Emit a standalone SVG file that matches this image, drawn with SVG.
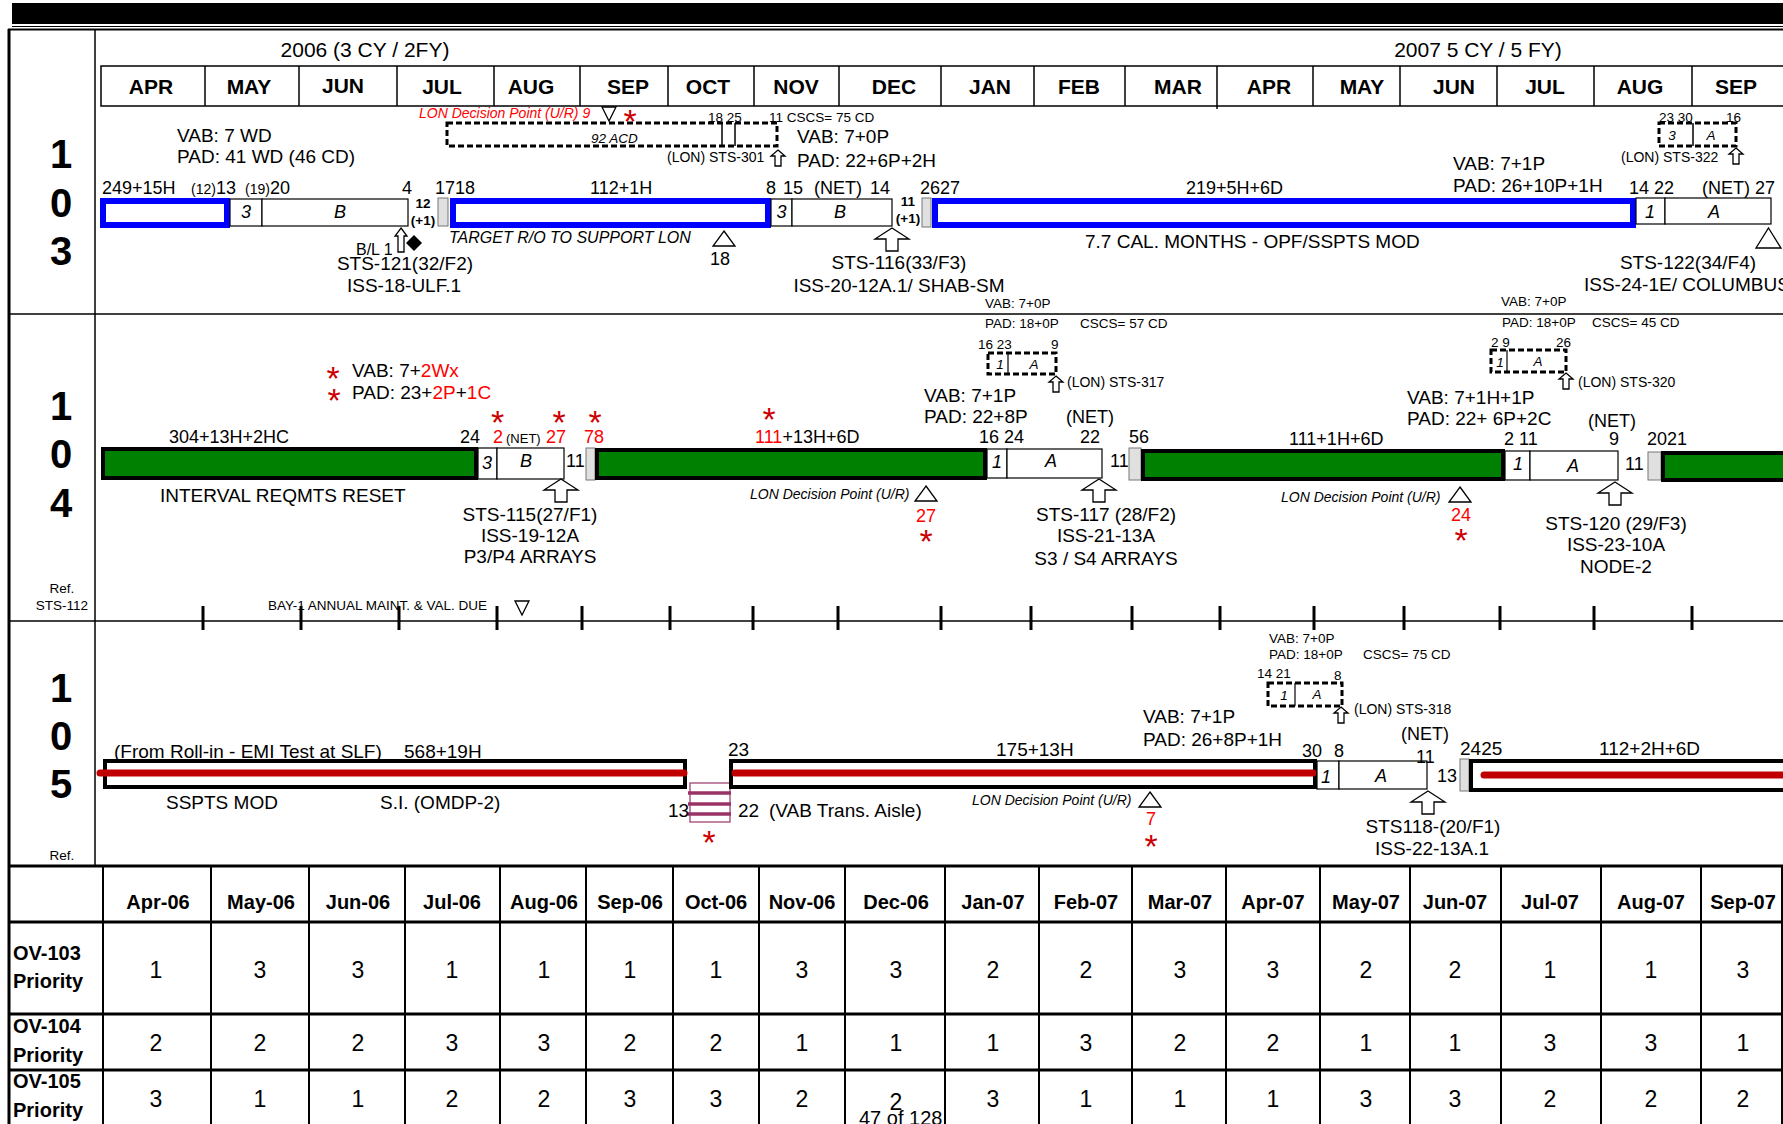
<svg xmlns="http://www.w3.org/2000/svg" xmlns:xlink="http://www.w3.org/1999/xlink" width="1783" height="1124" viewBox="0 0 1783 1124">
<style>
text{font-family:"Liberation Sans",Arial,sans-serif;fill:#000}
.s19{font-size:19px}.s18{font-size:18px}.s16{font-size:16px}.s14{font-size:14px}.s13{font-size:13.5px}
.i{font-style:italic}.b{font-weight:bold}.m{text-anchor:middle}.e{text-anchor:end}
.red{fill:#ff0000}.star{font-size:34px;fill:#cc0000;text-anchor:middle}
.mon{font-size:21px;font-weight:bold;text-anchor:middle}
.big{font-size:40px;font-weight:bold;text-anchor:middle}
.th{font-size:20px;font-weight:bold;text-anchor:middle}
.td{font-size:23px;text-anchor:middle}
.rl{font-size:20px;font-weight:bold}
.ln{stroke:#000;fill:none}
.box{fill:#fff;stroke:#000;stroke-width:1.2}
.grey{fill:#e0e0e0;stroke:#777;stroke-width:1}
.blue{fill:#fff;stroke:#0000ff;stroke-width:6}
.green{fill:#008000;stroke:#000;stroke-width:4}
.wbar{fill:#fff;stroke:#000;stroke-width:4}
.redl{stroke:#c00000;stroke-width:7;stroke-linecap:round}
.dash{fill:none;stroke:#000;stroke-width:3;stroke-dasharray:6 3}
.hollow{fill:#fff;stroke:#000;stroke-width:1.3}
</style>
<defs>
<path id="bigArrow" class="hollow" d="M0,0 L17,11 L6,11 L6,23 L-6,23 L-6,11 L-17,11 Z"/>
<path id="smallArrow" class="hollow" d="M0,0 L7,6 L3,6 L3,16 L-3,16 L-3,6 L-7,6 Z"/>
<path id="triUp" class="hollow" d="M0,0 L11,15 L-11,15 Z"/>
<path id="triDown" class="hollow" d="M-7,0 L7,0 L0,14 Z"/>
</defs>
<rect width="1783" height="1124" fill="#fff"/>

<g id="frame">
<rect x="12" y="3" width="1771" height="21" fill="#000"/>
<line class="ln" x1="12" y1="26.5" x2="1783" y2="26.5" stroke-width="1"/>
<line class="ln" x1="8" y1="29.5" x2="1783" y2="29.5" stroke-width="2"/>
<line class="ln" x1="9" y1="29" x2="9" y2="1124" stroke-width="3"/>
<line class="ln" x1="95" y1="29" x2="95" y2="865" stroke-width="1.5"/>
<line class="ln" x1="9" y1="314" x2="1783" y2="314" stroke-width="1.5"/>
<line class="ln" x1="9" y1="621" x2="1783" y2="621" stroke-width="1.5"/>
</g>

<g id="header">
<text class="s19 m" x="365" y="57" style="font-size:21px">2006 (3 CY / 2FY)</text>
<text class="s19 m" x="1478" y="57" style="font-size:21px">2007 5 CY / 5 FY)</text>
<rect x="101" y="66" width="1690" height="40" fill="none" stroke="#000" stroke-width="1.5"/>
<g class="ln" stroke-width="1.5">
<line x1="205" y1="66" x2="205" y2="106"/><line x1="299" y1="66" x2="299" y2="106"/><line x1="397" y1="66" x2="397" y2="106"/><line x1="494" y1="66" x2="494" y2="106"/><line x1="580" y1="66" x2="580" y2="106"/><line x1="668" y1="66" x2="668" y2="106"/><line x1="754" y1="66" x2="754" y2="106"/><line x1="839" y1="66" x2="839" y2="106"/><line x1="941" y1="66" x2="941" y2="106"/><line x1="1034" y1="66" x2="1034" y2="106"/><line x1="1125" y1="66" x2="1125" y2="106"/><line x1="1217" y1="66" x2="1217" y2="109"/><line x1="1313" y1="66" x2="1313" y2="106"/><line x1="1400" y1="66" x2="1400" y2="106"/><line x1="1497" y1="66" x2="1497" y2="106"/><line x1="1594" y1="66" x2="1594" y2="106"/><line x1="1692" y1="66" x2="1692" y2="106"/>
</g>
<text class="mon" x="151" y="94">APR</text><text class="mon" x="249" y="94">MAY</text><text class="mon" x="343" y="93">JUN</text><text class="mon" x="442" y="94">JUL</text><text class="mon" x="531" y="94">AUG</text><text class="mon" x="628" y="94">SEP</text><text class="mon" x="708" y="94">OCT</text><text class="mon" x="796" y="94">NOV</text><text class="mon" x="894" y="94">DEC</text><text class="mon" x="990" y="94">JAN</text><text class="mon" x="1079" y="94">FEB</text><text class="mon" x="1178" y="94">MAR</text><text class="mon" x="1269" y="94">APR</text><text class="mon" x="1362" y="94">MAY</text><text class="mon" x="1454" y="94">JUN</text><text class="mon" x="1545" y="94">JUL</text><text class="mon" x="1640" y="94">AUG</text><text class="mon" x="1736" y="94">SEP</text>
</g>

<g id="labels">
<text class="big" x="61" y="168">1</text><text class="big" x="61" y="217">0</text><text class="big" x="61" y="265">3</text>
<text class="big" x="61" y="420">1</text><text class="big" x="61" y="468">0</text><text class="big" x="61" y="517">4</text>
<text class="s13 m" x="62" y="593">Ref.</text><text class="s13 m" x="62" y="610">STS-112</text>
<text class="big" x="61" y="702">1</text><text class="big" x="61" y="750">0</text><text class="big" x="61" y="798">5</text>
<text class="s13 m" x="62" y="860">Ref.</text>
</g>

<!-- OV-103 -->
<g id="ov103-flow1">
<rect class="blue" x="103" y="201" width="124" height="24"/>
<rect class="box" x="230" y="199" width="32" height="27"/>
<rect class="box" x="262" y="199" width="146" height="27"/>
<text class="s18 i m" x="246" y="218">3</text><text class="s18 i m" x="340" y="218">B</text>
<text class="s18" x="102" y="194">249+15H</text>
<text class="s14" x="191" y="194">(12)</text><text class="s18" x="216" y="194">13</text>
<text class="s14" x="245" y="194">(19)</text><text class="s18" x="270" y="194">20</text>
<text class="s18" x="402" y="194">4</text>
<text class="s13 b m" x="423" y="208">12</text><text class="s13 b m" x="423" y="225">(+1)</text>
<text class="s19" x="177" y="142">VAB: 7 WD</text>
<text class="s19" x="177" y="163">PAD: 41 WD (46 CD)</text>
</g>
<g id="ov103-sts121">
<path class="hollow" d="M401,228 L407,236 L404,236 L404,252 L398,252 L398,236 L395,236 Z"/>
<path d="M414,235 L422,243 L414,251 L406,243 Z" fill="#000"/>
<text class="s16" x="356" y="255">B/L 1</text>
<text class="s19 m" x="405" y="270">STS-121(32/F2)</text>
<text class="s19 m" x="404" y="292">ISS-18-ULF.1</text>
</g>
<g id="ov103-flow2">
<rect class="grey" x="438" y="198" width="10" height="28"/>
<rect class="blue" x="453" y="201" width="315" height="24"/>
<rect class="box" x="771" y="199" width="21" height="27"/>
<rect class="box" x="792" y="199" width="100" height="27"/>
<text class="s18 i m" x="781.5" y="218">3</text><text class="s18 i m" x="840" y="218">B</text>
<text class="s18" x="435" y="194">1718</text>
<text class="s18" x="590" y="194">112+1H</text>
<text class="s18" x="766" y="194">8</text><text class="s18" x="783" y="194">15</text><text class="s18" x="814" y="194">(NET)</text><text class="s18" x="870" y="194">14</text>
<text class="s13 b m" x="908" y="206">11</text><text class="s13 b m" x="908" y="223">(+1)</text>
<text class="s16 i" x="449" y="243">TARGET R/O TO SUPPORT LON</text>
<use href="#triUp" x="724" y="231"/>
<text class="s18 m" x="720" y="265">18</text>
</g>
<g id="ov103-sts301">
<text class="s14 i red" x="419" y="118">LON Decision Point (U/R) 9</text>
<use href="#triDown" x="609" y="107"/>
<text class="star" x="630" y="133">*</text>
<rect class="dash" x="447" y="123" width="330" height="23"/>
<line class="ln" x1="722" y1="123" x2="722" y2="146" stroke-width="1.5"/>
<line class="ln" x1="735" y1="123" x2="735" y2="146" stroke-width="1.5"/>
<text class="s13 i" x="591" y="143">92 ACD</text>
<text class="s13" x="708" y="122">18 25</text>
<text class="s13" x="769" y="122">11 CSCS= 75 CD</text>
<use href="#smallArrow" x="778" y="150"/>
<text class="s14" x="667" y="162">(LON) STS-301</text>
<text class="s19" x="797" y="143">VAB: 7+0P</text>
<text class="s19" x="797" y="167">PAD: 22+6P+2H</text>
</g>
<g id="ov103-sts116">
<use href="#bigArrow" x="892" y="228"/>
<text class="s19 m" x="899" y="269">STS-116(33/F3)</text>
<text class="s19 m" x="899" y="292">ISS-20-12A.1/ SHAB-SM</text>
</g>
<g id="ov103-flow3">
<rect class="grey" x="922" y="198" width="9" height="29"/>
<rect class="blue" x="935" y="201" width="698" height="24"/>
<rect class="box" x="1636" y="198" width="29" height="26"/>
<rect class="box" x="1665" y="198" width="106" height="26"/>
<text class="s18 i m" x="1650" y="218">1</text><text class="s18 i m" x="1714" y="218">A</text>
<text class="s18" x="920" y="194">2627</text>
<text class="s18" x="1186" y="194">219+5H+6D</text>
<text class="s19" x="1085" y="248">7.7 CAL. MONTHS - OPF/SSPTS MOD</text>
<text class="s19" x="1453" y="170">VAB: 7+1P</text>
<text class="s19" x="1453" y="192">PAD: 26+10P+1H</text>
<text class="s18" x="1629" y="194">14 22</text>
<text class="s18" x="1702" y="194">(NET) 27</text>
</g>
<g id="ov103-sts122">
<path class="hollow" d="M1768.5,228 L1781,248 L1756,248 Z"/>
<text class="s19 m" x="1688" y="269">STS-122(34/F4)</text>
<text class="s19" x="1584" y="291">ISS-24-1E/ COLUMBUS</text>
</g>
<g id="ov103-sts322">
<rect class="dash" x="1659" y="123" width="77" height="23"/>
<line class="ln" x1="1693" y1="123" x2="1693" y2="146" stroke-width="1.5"/>
<text class="s13 i m" x="1672" y="140">3</text><text class="s13 i m" x="1711" y="140">A</text>
<text class="s13" x="1659" y="122">23 30</text><text class="s13" x="1726" y="122">16</text>
<use href="#smallArrow" x="1736" y="148"/>
<text class="s14" x="1621" y="162">(LON) STS-322</text>
</g>

<!-- OV-104 -->
<g id="ov104-flow1">
<text class="star" x="333" y="390">*</text>
<text class="s19" x="352" y="377">VAB: 7+<tspan class="red">2Wx</tspan></text>
<text class="star" x="334" y="412">*</text>
<text class="s19" x="352" y="399">PAD: 23+<tspan class="red">2P</tspan>+<tspan class="red">1C</tspan></text>
<rect class="green" x="103" y="449" width="373" height="29"/>
<rect class="box" x="478" y="448" width="19" height="31"/>
<rect class="box" x="497" y="448" width="67" height="31"/>
<text class="s18 i m" x="487" y="469">3</text><text class="s18 i m" x="526" y="467">B</text>
<text class="s18" x="169" y="443">304+13H+2HC</text>
<text class="s19" x="160" y="502">INTERVAL REQMTS RESET</text>
<text class="s18" x="460" y="443">24</text>
<text class="s18 red" x="493" y="443">2</text>
<text class="s13" x="506" y="443" style="font-size:13px">(NET)</text>
<text class="s18 red" x="546" y="443">27</text>
<text class="star" x="497.5" y="434">*</text><text class="star" x="559" y="434">*</text>
<text class="s18" x="566" y="467">11</text>
</g>
<g id="ov104-sts115">
<use href="#bigArrow" x="561" y="479"/>
<text class="s19 m" x="530" y="521">STS-115(27/F1)</text>
<text class="s19 m" x="530" y="542">ISS-19-12A</text>
<text class="s19 m" x="530" y="563">P3/P4 ARRAYS</text>
</g>
<g id="ov104-flow2">
<rect class="grey" x="586" y="448" width="9" height="32"/>
<rect class="green" x="597" y="450" width="388" height="28"/>
<rect class="box" x="987" y="449" width="20" height="29"/>
<rect class="box" x="1007" y="449" width="95" height="29"/>
<text class="s18 i m" x="997" y="468">1</text><text class="s18 i m" x="1051" y="467">A</text>
<text class="star" x="595" y="434">*</text>
<text class="s18 red" x="584" y="443">78</text>
<text class="star" x="769" y="431">*</text>
<text class="s18" x="755" y="443"><tspan class="red">111</tspan>+13H+6D</text>
<text class="s14 i" x="750" y="499">LON Decision Point (U/R)</text>
<use href="#triUp" x="926" y="486"/>
<text class="s18 red m" x="926" y="522">27</text>
<text class="star" x="926" y="553">*</text>
<text class="s19" x="924" y="402">VAB: 7+1P</text>
<text class="s19" x="924" y="423">PAD: 22+8P</text>
<text class="s18" x="1066" y="423">(NET)</text>
<text class="s18" x="979" y="443">16 24</text>
<text class="s18" x="1080" y="443">22</text>
<text class="s18" x="1110" y="467">11</text>
</g>
<g id="ov104-sts117">
<use href="#bigArrow" x="1099" y="479"/>
<text class="s19 m" x="1106" y="521">STS-117 (28/F2)</text>
<text class="s19 m" x="1106" y="542">ISS-21-13A</text>
<text class="s19 m" x="1106" y="565">S3 / S4 ARRAYS</text>
</g>
<g id="ov104-sts317">
<text class="s13" x="985" y="308">VAB: 7+0P</text>
<text class="s13" x="985" y="328">PAD: 18+0P</text>
<text class="s13" x="1080" y="328">CSCS= 57 CD</text>
<text class="s13" x="978" y="349">16 23</text><text class="s13" x="1051" y="349">9</text>
<rect class="dash" x="988" y="353" width="68" height="21"/>
<line class="ln" x1="1008" y1="353" x2="1008" y2="374" stroke-width="1.2"/>
<text class="s13 i m" x="1000" y="369">1</text><text class="s13 i m" x="1034" y="369">A</text>
<use href="#smallArrow" x="1056" y="376"/>
<text class="s14" x="1067" y="387">(LON) STS-317</text>
</g>
<g id="ov104-flow3">
<rect class="grey" x="1129" y="448" width="12" height="32"/>
<rect class="green" x="1143" y="451" width="360" height="28"/>
<rect class="box" x="1505" y="451" width="25" height="29"/>
<rect class="box" x="1530" y="451" width="88" height="29"/>
<text class="s18 i m" x="1518" y="470">1</text><text class="s18 i m" x="1573" y="472">A</text>
<text class="s18" x="1129" y="443">56</text>
<text class="s18" x="1289" y="445">111+1H+6D</text>
<text class="s14 i" x="1281" y="502">LON Decision Point (U/R)</text>
<use href="#triUp" x="1460" y="487"/>
<text class="s18 red m" x="1461" y="521">24</text>
<text class="star" x="1461" y="552">*</text>
<text class="s19" x="1407" y="404">VAB: 7+1H+1P</text>
<text class="s19" x="1407" y="425">PAD: 22+ 6P+2C</text>
<text class="s18" x="1588" y="427">(NET)</text>
<text class="s18" x="1504" y="445">2 11</text>
<text class="s18" x="1609" y="445">9</text>
<text class="s18" x="1625" y="470">11</text>
</g>
<g id="ov104-sts120">
<use href="#bigArrow" x="1615" y="482"/>
<text class="s19 m" x="1616" y="530">STS-120 (29/F3)</text>
<text class="s19 m" x="1616" y="551">ISS-23-10A</text>
<text class="s19 m" x="1616" y="573">NODE-2</text>
</g>
<g id="ov104-sts320">
<text class="s13" x="1501" y="306">VAB: 7+0P</text>
<text class="s13" x="1502" y="327">PAD: 18+0P</text>
<text class="s13" x="1592" y="327">CSCS= 45 CD</text>
<text class="s13" x="1491" y="347">2 9</text><text class="s13" x="1556" y="347">26</text>
<rect class="dash" x="1491" y="350" width="75" height="22"/>
<line class="ln" x1="1507" y1="350" x2="1507" y2="372" stroke-width="1.2"/>
<text class="s13 i m" x="1500" y="367">1</text><text class="s13 i m" x="1538" y="366">A</text>
<use href="#smallArrow" x="1566" y="373"/>
<text class="s14" x="1578" y="387">(LON) STS-320</text>
</g>
<g id="ov104-flow4">
<rect class="grey" x="1648" y="452" width="13" height="28"/>
<rect class="green" x="1663" y="453" width="130" height="27"/>
<text class="s18" x="1647" y="445">2021</text>
</g>

<g id="connectors">
<g class="ln" stroke-width="3">
<line x1="203" y1="606" x2="203" y2="630"/><line x1="301" y1="606" x2="301" y2="630"/><line x1="399" y1="606" x2="399" y2="630"/><line x1="497" y1="606" x2="497" y2="630"/><line x1="582" y1="606" x2="582" y2="630"/><line x1="670" y1="606" x2="670" y2="630"/><line x1="753" y1="606" x2="753" y2="630"/><line x1="838" y1="606" x2="838" y2="630"/><line x1="941" y1="606" x2="941" y2="630"/><line x1="1031" y1="606" x2="1031" y2="630"/><line x1="1132" y1="606" x2="1132" y2="630"/><line x1="1220" y1="606" x2="1220" y2="630"/><line x1="1314" y1="606" x2="1314" y2="630"/><line x1="1404" y1="606" x2="1404" y2="630"/><line x1="1500" y1="606" x2="1500" y2="630"/><line x1="1594" y1="606" x2="1594" y2="630"/><line x1="1692" y1="606" x2="1692" y2="630"/>
</g>
</g>
<g id="bay1">
<text class="s13" x="268" y="610">BAY-1 ANNUAL MAINT. &amp; VAL. DUE</text>
<use href="#triDown" x="522" y="601"/>
</g>

<!-- OV-105 -->
<g id="ov105-flow1">
<rect class="wbar" x="105" y="761" width="580" height="26"/>
<line class="redl" x1="100" y1="773" x2="684" y2="773"/>
<text class="s19" x="114" y="758">(From Roll-in - EMI Test at SLF)</text>
<text class="s19" x="404" y="758">568+19H</text>
<text class="s19" x="166" y="809">SSPTS MOD</text>
<text class="s19" x="380" y="809">S.I. (OMDP-2)</text>
</g>
<g id="ov105-aisle">
<rect x="690" y="783" width="40" height="39" fill="none" stroke="#993366" stroke-width="1.2"/>
<g stroke="#993366" stroke-width="3.5"><line x1="688" y1="793" x2="731" y2="793"/><line x1="688" y1="804" x2="731" y2="804"/><line x1="688" y1="814" x2="731" y2="814"/></g>
<text class="s19" x="668" y="817">13</text>
<text class="s19" x="738" y="817">22</text>
<text class="s19" x="769" y="817">(VAB Trans. Aisle)</text>
<text class="star" x="709" y="854">*</text>
</g>
<g id="ov105-flow2">
<rect class="wbar" x="731" y="761" width="584" height="26"/>
<line class="redl" x1="735" y1="773" x2="1313" y2="773"/>
<rect class="box" x="1317" y="761" width="22" height="28"/>
<rect class="box" x="1339" y="761" width="88" height="28"/>
<text class="s18 i m" x="1326" y="783">1</text><text class="s18 i m" x="1381" y="782">A</text>
<text class="s19" x="728" y="756">23</text>
<text class="s19" x="996" y="756">175+13H</text>
<text class="s14 i" x="972" y="805">LON Decision Point (U/R)</text>
<use href="#triUp" x="1150" y="792"/>
<text class="s18 red m" x="1151" y="825">7</text>
<text class="star" x="1151" y="858">*</text>
<text class="s19" x="1143" y="723">VAB: 7+1P</text>
<text class="s19" x="1143" y="746">PAD: 26+8P+1H</text>
<text class="s18" x="1302" y="757">30</text><text class="s18" x="1334" y="757">8</text>
<text class="s18" x="1401" y="740">(NET)</text>
<text class="s18" x="1416" y="763">11</text>
<text class="s18" x="1437" y="782">13</text>
</g>
<g id="ov105-sts318">
<text class="s13" x="1269" y="643">VAB: 7+0P</text>
<text class="s13" x="1269" y="659">PAD: 18+0P</text>
<text class="s13" x="1363" y="659">CSCS= 75 CD</text>
<text class="s13" x="1257" y="678">14 21</text><text class="s13" x="1334" y="680">8</text>
<rect class="dash" x="1268" y="683" width="74" height="23"/>
<line class="ln" x1="1295" y1="683" x2="1295" y2="706" stroke-width="1.2"/>
<text class="s13 i m" x="1284" y="700">1</text><text class="s13 i m" x="1317" y="699">A</text>
<use href="#smallArrow" x="1341" y="707"/>
<text class="s14" x="1354" y="714">(LON) STS-318</text>
</g>
<g id="ov105-sts118">
<use href="#bigArrow" x="1428" y="791"/>
<text class="s19 m" x="1433" y="833">STS118-(20/F1)</text>
<text class="s19 m" x="1432" y="855">ISS-22-13A.1</text>
</g>
<g id="ov105-flow3">
<rect class="grey" x="1460" y="759" width="9" height="32"/>
<rect class="wbar" x="1471" y="761" width="320" height="29"/>
<line class="redl" x1="1484" y1="775" x2="1790" y2="775"/>
<text class="s19" x="1460" y="755">2425</text>
<text class="s19" x="1599" y="755">112+2H+6D</text>
</g>

<!-- Priority table -->
<g id="priority-table">
<g class="ln" stroke-width="3">
<line x1="9" y1="866" x2="1783" y2="866"/><line x1="9" y1="922" x2="1783" y2="922"/><line x1="9" y1="1014" x2="1783" y2="1014"/><line x1="9" y1="1070" x2="1783" y2="1070"/>
</g>
<g class="ln" stroke-width="2">
<line x1="103" y1="866" x2="103" y2="1124"/><line x1="211" y1="866" x2="211" y2="1124"/><line x1="309" y1="866" x2="309" y2="1124"/><line x1="405" y1="866" x2="405" y2="1124"/><line x1="500" y1="866" x2="500" y2="1124"/><line x1="586" y1="866" x2="586" y2="1124"/><line x1="673" y1="866" x2="673" y2="1124"/><line x1="759" y1="866" x2="759" y2="1124"/><line x1="845" y1="866" x2="845" y2="1124"/><line x1="945" y1="866" x2="945" y2="1124"/><line x1="1039" y1="866" x2="1039" y2="1124"/><line x1="1132" y1="866" x2="1132" y2="1124"/><line x1="1226" y1="866" x2="1226" y2="1124"/><line x1="1320" y1="866" x2="1320" y2="1124"/><line x1="1410" y1="866" x2="1410" y2="1124"/><line x1="1501" y1="866" x2="1501" y2="1124"/><line x1="1601" y1="866" x2="1601" y2="1124"/><line x1="1701" y1="866" x2="1701" y2="1124"/><line x1="1782" y1="866" x2="1782" y2="1124"/>
</g>
<text class="th" x="158" y="909">Apr-06</text><text class="th" x="261" y="909">May-06</text><text class="th" x="358" y="909">Jun-06</text><text class="th" x="452" y="909">Jul-06</text><text class="th" x="544" y="909">Aug-06</text><text class="th" x="630" y="909">Sep-06</text><text class="th" x="716" y="909">Oct-06</text><text class="th" x="802" y="909">Nov-06</text><text class="th" x="896" y="909">Dec-06</text><text class="th" x="993" y="909">Jan-07</text><text class="th" x="1086" y="909">Feb-07</text><text class="th" x="1180" y="909">Mar-07</text><text class="th" x="1273" y="909">Apr-07</text><text class="th" x="1366" y="909">May-07</text><text class="th" x="1455" y="909">Jun-07</text><text class="th" x="1550" y="909">Jul-07</text><text class="th" x="1651" y="909">Aug-07</text><text class="th" x="1743" y="909">Sep-07</text>
<text class="rl" x="13" y="960">OV-103</text><text class="rl" x="13" y="988">Priority</text>
<text class="rl" x="13" y="1033">OV-104</text><text class="rl" x="13" y="1062">Priority</text>
<text class="rl" x="13" y="1088">OV-105</text><text class="rl" x="13" y="1117">Priority</text>
<g id="row103">
<text class="td" x="156" y="978">1</text><text class="td" x="260" y="978">3</text><text class="td" x="358" y="978">3</text><text class="td" x="452" y="978">1</text><text class="td" x="544" y="978">1</text><text class="td" x="630" y="978">1</text><text class="td" x="716" y="978">1</text><text class="td" x="802" y="978">3</text><text class="td" x="896" y="978">3</text><text class="td" x="993" y="978">2</text><text class="td" x="1086" y="978">2</text><text class="td" x="1180" y="978">3</text><text class="td" x="1273" y="978">3</text><text class="td" x="1366" y="978">2</text><text class="td" x="1455" y="978">2</text><text class="td" x="1550" y="978">1</text><text class="td" x="1651" y="978">1</text><text class="td" x="1743" y="978">3</text>
</g>
<g id="row104">
<text class="td" x="156" y="1051">2</text><text class="td" x="260" y="1051">2</text><text class="td" x="358" y="1051">2</text><text class="td" x="452" y="1051">3</text><text class="td" x="544" y="1051">3</text><text class="td" x="630" y="1051">2</text><text class="td" x="716" y="1051">2</text><text class="td" x="802" y="1051">1</text><text class="td" x="896" y="1051">1</text><text class="td" x="993" y="1051">1</text><text class="td" x="1086" y="1051">3</text><text class="td" x="1180" y="1051">2</text><text class="td" x="1273" y="1051">2</text><text class="td" x="1366" y="1051">1</text><text class="td" x="1455" y="1051">1</text><text class="td" x="1550" y="1051">3</text><text class="td" x="1651" y="1051">3</text><text class="td" x="1743" y="1051">1</text>
</g>
<g id="row105">
<text class="td" x="156" y="1107">3</text><text class="td" x="260" y="1107">1</text><text class="td" x="358" y="1107">1</text><text class="td" x="452" y="1107">2</text><text class="td" x="544" y="1107">2</text><text class="td" x="630" y="1107">3</text><text class="td" x="716" y="1107">3</text><text class="td" x="802" y="1107">2</text><text class="td" x="896" y="1110">2</text><text class="td" x="993" y="1107">3</text><text class="td" x="1086" y="1107">1</text><text class="td" x="1180" y="1107">1</text><text class="td" x="1273" y="1107">1</text><text class="td" x="1366" y="1107">3</text><text class="td" x="1455" y="1107">3</text><text class="td" x="1550" y="1107">2</text><text class="td" x="1651" y="1107">2</text><text class="td" x="1743" y="1107">2</text>
</g>
<text class="s19" x="859" y="1125" style="font-size:20px">47 of 128</text>
</g>
</svg>
